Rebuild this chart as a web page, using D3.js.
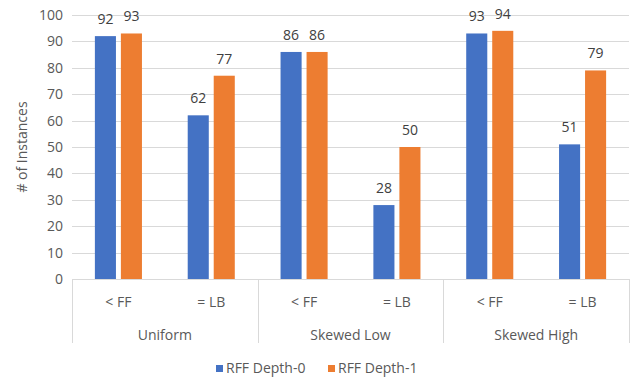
<!DOCTYPE html>
<html>
<head>
<meta charset="utf-8">
<script src="https://cdn.jsdelivr.net/npm/d3@7"></script>
<style>
  html, body { margin: 0; padding: 0; background: #ffffff; }
  svg { display: block; font-family: "Open Sans", "Noto Sans", sans-serif; }
</style>
</head>
<body>
<svg id="chart" width="635" height="379"></svg>
<script>
// Distribution groups and the two outcome categories inside each
const groups = ["Uniform", "Skewed Low", "Skewed High"];
const subCategories = ["< FF", "= LB"];
const seriesNames = ["RFF Depth-0", "RFF Depth-1"];
// Values per (group, sub-category), in the order of groups × subCategories
const depth0 = [92, 62, 86, 28, 93, 51];
const depth1 = [93, 77, 86, 50, 94, 79];
const yTicks = [0, 10, 20, 30, 40, 50, 60, 70, 80, 90, 100];

const colors = { "RFF Depth-0": "#4472C4", "RFF Depth-1": "#ED7D31" };
const textColor = "#595959";
const gridColor = "#d9d9d9";
const fontSize = 14;

const svg = d3.select("#chart");
const margin = { left: 72, right: 6, top: 15, bottom: 100 };
const W = 635, H = 379;
const plotBottom = H - margin.bottom; // 279
const axisBottom = 343;

// Rows of (group, sub, values)
const rows = [];
groups.forEach((g, gi) => {
  subCategories.forEach((s, si) => {
    const i = gi * subCategories.length + si;
    rows.push({ key: g + "|" + s, group: g, sub: s, values: [depth0[i], depth1[i]] });
  });
});

const x0 = d3.scaleBand()
  .domain(rows.map(r => r.key))
  .range([margin.left, W - margin.right]);

const xGroup = d3.scaleBand()
  .domain(groups)
  .range([margin.left, W - margin.right]);

const x1 = d3.scaleBand()
  .domain(seriesNames)
  .range([0, x0.bandwidth()])
  .paddingInner(0.19)
  .paddingOuter(0.88);

const y = d3.scaleLinear()
  .domain([0, 100])
  .range([plotBottom, margin.top]);

// Horizontal gridlines
svg.append("g")
  .selectAll("line")
  .data(yTicks)
  .join("line")
  .attr("x1", margin.left)
  .attr("x2", W - margin.right)
  .attr("y1", d => Math.round(y(d)) + 0.5)
  .attr("y2", d => Math.round(y(d)) + 0.5)
  .attr("stroke", gridColor)
  .attr("stroke-width", 1);

// Y axis tick labels
svg.append("g")
  .selectAll("text")
  .data(yTicks)
  .join("text")
  .attr("x", 63)
  .attr("y", d => y(d))
  .attr("dy", "0.35em")
  .attr("text-anchor", "end")
  .attr("font-size", fontSize)
  .attr("fill", textColor)
  .text(d => d);

// Y axis title
svg.append("text")
  .attr("transform", `translate(27,${(margin.top + plotBottom) / 2}) rotate(-90)`)
  .attr("text-anchor", "middle")
  .attr("font-size", fontSize)
  .attr("fill", textColor)
  .text("# of Instances");

// Group separators below the plot
const sepX = groups.map(g => xGroup(g)).concat([W - margin.right]);
svg.append("g")
  .selectAll("line")
  .data(sepX)
  .join("line")
  .attr("x1", d => Math.round(d) + 0.5)
  .attr("x2", d => Math.round(d) + 0.5)
  .attr("y1", plotBottom)
  .attr("y2", axisBottom)
  .attr("stroke", gridColor)
  .attr("stroke-width", 1);

// Bars
const barG = svg.append("g")
  .selectAll("g")
  .data(rows)
  .join("g")
  .attr("transform", d => `translate(${x0(d.key)},0)`);

barG.selectAll("rect")
  .data(d => d.values.map((v, i) => ({ name: seriesNames[i], value: v })))
  .join("rect")
  .attr("x", d => x1(d.name))
  .attr("width", x1.bandwidth())
  .attr("y", d => y(d.value))
  .attr("height", d => y(0) - y(d.value))
  .attr("fill", d => colors[d.name]);

// Value labels
barG.selectAll("text")
  .data(d => d.values.map((v, i) => ({ name: seriesNames[i], value: v })))
  .join("text")
  .attr("x", d => x1(d.name) + x1.bandwidth() / 2)
  .attr("y", d => y(d.value) - 12)
  .attr("text-anchor", "middle")
  .attr("font-size", fontSize)
  .attr("fill", "#404040")
  .text(d => d.value);

// Sub-category labels
svg.append("g")
  .selectAll("text")
  .data(rows)
  .join("text")
  .attr("x", d => x0(d.key) + x0.bandwidth() / 2)
  .attr("y", 307)
  .attr("text-anchor", "middle")
  .attr("font-size", fontSize)
  .attr("fill", textColor)
  .text(d => d.sub);

// Group labels
svg.append("g")
  .selectAll("text")
  .data(groups)
  .join("text")
  .attr("x", d => xGroup(d) + xGroup.bandwidth() / 2)
  .attr("y", 340)
  .attr("text-anchor", "middle")
  .attr("font-size", fontSize)
  .attr("fill", textColor)
  .text(d => d);

// Legend
const legendX = [216, 328];
const legend = svg.append("g")
  .selectAll("g")
  .data(seriesNames)
  .join("g")
  .attr("transform", (d, i) => `translate(${legendX[i]},365)`);
legend.append("rect")
  .attr("width", 7)
  .attr("height", 7)
  .attr("fill", d => colors[d]);
legend.append("text")
  .attr("x", 10)
  .attr("y", 8)
  .attr("font-size", fontSize)
  .attr("fill", textColor)
  .text(d => d);
</script>
</body>
</html>
